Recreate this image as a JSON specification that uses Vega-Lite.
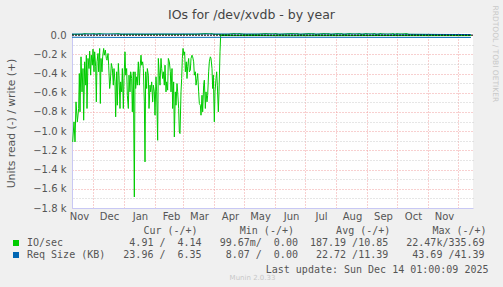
{
  "$schema": "https://vega.github.io/schema/vega-lite/v6.json",
  "width": 401,
  "height": 175,
  "autosize": {"type": "none"},
  "padding": {"left": 72, "top": 33, "right": 30, "bottom": 79},
  "background": "#f0f0f0",
  "config": {"view": {"fill": "white", "stroke": null}},
  "datasets": {
    "io": [
      {"t": "2024-11-10T16:00", "v": -1112, "s": "IO/sec", "d": "r"},
      {"t": "2024-11-12T00:00", "v": -903, "s": "IO/sec", "d": "r"},
      {"t": "2024-11-13T00:00", "v": -1112, "s": "IO/sec", "d": "r"},
      {"t": "2024-11-14T00:00", "v": -695, "s": "IO/sec", "d": "r"},
      {"t": "2024-11-15T08:00", "v": -903, "s": "IO/sec", "d": "r"},
      {"t": "2024-11-16T16:00", "v": -764, "s": "IO/sec", "d": "r"},
      {"t": "2024-11-17T08:00", "v": -400, "s": "IO/sec", "d": "r"},
      {"t": "2024-11-18T00:00", "v": -799, "s": "IO/sec", "d": "r"},
      {"t": "2024-11-19T00:00", "v": -226, "s": "IO/sec", "d": "r"},
      {"t": "2024-11-20T00:00", "v": -591, "s": "IO/sec", "d": "r"},
      {"t": "2024-11-21T00:00", "v": -348, "s": "IO/sec", "d": "r"},
      {"t": "2024-11-21T16:00", "v": -886, "s": "IO/sec", "d": "r"},
      {"t": "2024-11-22T16:00", "v": -278, "s": "IO/sec", "d": "r"},
      {"t": "2024-11-23T16:00", "v": -521, "s": "IO/sec", "d": "r"},
      {"t": "2024-11-24T08:00", "v": -209, "s": "IO/sec", "d": "r"},
      {"t": "2024-11-25T00:00", "v": -764, "s": "IO/sec", "d": "r"},
      {"t": "2024-11-26T00:00", "v": -243, "s": "IO/sec", "d": "r"},
      {"t": "2024-11-27T00:00", "v": -348, "s": "IO/sec", "d": "r"},
      {"t": "2024-11-27T16:00", "v": -167, "s": "IO/sec", "d": "r"},
      {"t": "2024-11-28T16:00", "v": -417, "s": "IO/sec", "d": "r"},
      {"t": "2024-11-29T08:00", "v": -209, "s": "IO/sec", "d": "r"},
      {"t": "2024-11-30T08:00", "v": -313, "s": "IO/sec", "d": "r"},
      {"t": "2024-12-01T00:00", "v": -146, "s": "IO/sec", "d": "r"},
      {"t": "2024-12-02T00:00", "v": -382, "s": "IO/sec", "d": "r"},
      {"t": "2024-12-02T16:00", "v": -174, "s": "IO/sec", "d": "r"},
      {"t": "2024-12-03T16:00", "v": -330, "s": "IO/sec", "d": "r"},
      {"t": "2024-12-04T08:00", "v": -695, "s": "IO/sec", "d": "r"},
      {"t": "2024-12-05T00:00", "v": -278, "s": "IO/sec", "d": "r"},
      {"t": "2024-12-06T00:00", "v": -191, "s": "IO/sec", "d": "r"},
      {"t": "2024-12-06T16:00", "v": -382, "s": "IO/sec", "d": "r"},
      {"t": "2024-12-07T16:00", "v": -139, "s": "IO/sec", "d": "r"},
      {"t": "2024-12-08T08:00", "v": -712, "s": "IO/sec", "d": "r"},
      {"t": "2024-12-09T00:00", "v": -243, "s": "IO/sec", "d": "r"},
      {"t": "2024-12-10T00:00", "v": -382, "s": "IO/sec", "d": "r"},
      {"t": "2024-12-10T16:00", "v": -226, "s": "IO/sec", "d": "r"},
      {"t": "2024-12-11T16:00", "v": -139, "s": "IO/sec", "d": "r"},
      {"t": "2024-12-12T08:00", "v": -209, "s": "IO/sec", "d": "r"},
      {"t": "2024-12-13T08:00", "v": -156, "s": "IO/sec", "d": "r"},
      {"t": "2024-12-14T08:00", "v": -243, "s": "IO/sec", "d": "r"},
      {"t": "2024-12-15T00:00", "v": -261, "s": "IO/sec", "d": "r"},
      {"t": "2024-12-16T00:00", "v": -191, "s": "IO/sec", "d": "r"},
      {"t": "2024-12-16T16:00", "v": -313, "s": "IO/sec", "d": "r"},
      {"t": "2024-12-17T16:00", "v": -556, "s": "IO/sec", "d": "r"},
      {"t": "2024-12-18T08:00", "v": -487, "s": "IO/sec", "d": "r"},
      {"t": "2024-12-19T08:00", "v": -295, "s": "IO/sec", "d": "r"},
      {"t": "2024-12-20T08:00", "v": -348, "s": "IO/sec", "d": "r"},
      {"t": "2024-12-21T08:00", "v": -521, "s": "IO/sec", "d": "r"},
      {"t": "2024-12-22T00:00", "v": -348, "s": "IO/sec", "d": "r"},
      {"t": "2024-12-23T00:00", "v": -487, "s": "IO/sec", "d": "r"},
      {"t": "2024-12-23T16:00", "v": -851, "s": "IO/sec", "d": "r"},
      {"t": "2024-12-24T16:00", "v": -382, "s": "IO/sec", "d": "r"},
      {"t": "2024-12-25T08:00", "v": -730, "s": "IO/sec", "d": "r"},
      {"t": "2024-12-26T08:00", "v": -295, "s": "IO/sec", "d": "r"},
      {"t": "2024-12-27T00:00", "v": -417, "s": "IO/sec", "d": "r"},
      {"t": "2024-12-28T00:00", "v": -764, "s": "IO/sec", "d": "r"},
      {"t": "2024-12-28T16:00", "v": -487, "s": "IO/sec", "d": "r"},
      {"t": "2024-12-29T16:00", "v": -591, "s": "IO/sec", "d": "r"},
      {"t": "2024-12-30T08:00", "v": -348, "s": "IO/sec", "d": "r"},
      {"t": "2024-12-31T08:00", "v": -764, "s": "IO/sec", "d": "r"},
      {"t": "2025-01-01T00:00", "v": -452, "s": "IO/sec", "d": "r"},
      {"t": "2025-01-02T00:00", "v": -174, "s": "IO/sec", "d": "r"},
      {"t": "2025-01-02T16:00", "v": -417, "s": "IO/sec", "d": "r"},
      {"t": "2025-01-03T16:00", "v": -348, "s": "IO/sec", "d": "r"},
      {"t": "2025-01-04T08:00", "v": -626, "s": "IO/sec", "d": "r"},
      {"t": "2025-01-05T08:00", "v": -764, "s": "IO/sec", "d": "r"},
      {"t": "2025-01-06T00:00", "v": -417, "s": "IO/sec", "d": "r"},
      {"t": "2025-01-07T00:00", "v": -591, "s": "IO/sec", "d": "r"},
      {"t": "2025-01-07T16:00", "v": -382, "s": "IO/sec", "d": "r"},
      {"t": "2025-01-08T16:00", "v": -452, "s": "IO/sec", "d": "r"},
      {"t": "2025-01-09T08:00", "v": -799, "s": "IO/sec", "d": "r"},
      {"t": "2025-01-10T08:00", "v": -382, "s": "IO/sec", "d": "r"},
      {"t": "2025-01-11T08:00", "v": -1685, "s": "IO/sec", "d": "r"},
      {"t": "2025-01-12T00:00", "v": -382, "s": "IO/sec", "d": "r"},
      {"t": "2025-01-12T16:00", "v": -556, "s": "IO/sec", "d": "r"},
      {"t": "2025-01-13T16:00", "v": -434, "s": "IO/sec", "d": "r"},
      {"t": "2025-01-14T08:00", "v": -521, "s": "IO/sec", "d": "r"},
      {"t": "2025-01-15T08:00", "v": -278, "s": "IO/sec", "d": "r"},
      {"t": "2025-01-16T08:00", "v": -521, "s": "IO/sec", "d": "r"},
      {"t": "2025-01-17T00:00", "v": -348, "s": "IO/sec", "d": "r"},
      {"t": "2025-01-18T00:00", "v": -209, "s": "IO/sec", "d": "r"},
      {"t": "2025-01-18T16:00", "v": -313, "s": "IO/sec", "d": "r"},
      {"t": "2025-01-19T16:00", "v": -278, "s": "IO/sec", "d": "r"},
      {"t": "2025-01-20T08:00", "v": -348, "s": "IO/sec", "d": "r"},
      {"t": "2025-01-21T08:00", "v": -695, "s": "IO/sec", "d": "r"},
      {"t": "2025-01-22T00:00", "v": -1320, "s": "IO/sec", "d": "r"},
      {"t": "2025-01-22T16:00", "v": -382, "s": "IO/sec", "d": "r"},
      {"t": "2025-01-23T16:00", "v": -556, "s": "IO/sec", "d": "r"},
      {"t": "2025-01-24T08:00", "v": -348, "s": "IO/sec", "d": "r"},
      {"t": "2025-01-25T08:00", "v": -417, "s": "IO/sec", "d": "r"},
      {"t": "2025-01-26T00:00", "v": -764, "s": "IO/sec", "d": "r"},
      {"t": "2025-01-27T00:00", "v": -521, "s": "IO/sec", "d": "r"},
      {"t": "2025-01-27T16:00", "v": -591, "s": "IO/sec", "d": "r"},
      {"t": "2025-01-28T16:00", "v": -487, "s": "IO/sec", "d": "r"},
      {"t": "2025-01-29T16:00", "v": -695, "s": "IO/sec", "d": "r"},
      {"t": "2025-01-30T08:00", "v": -521, "s": "IO/sec", "d": "r"},
      {"t": "2025-01-31T08:00", "v": -591, "s": "IO/sec", "d": "r"},
      {"t": "2025-02-01T00:00", "v": -834, "s": "IO/sec", "d": "r"},
      {"t": "2025-02-02T00:00", "v": -434, "s": "IO/sec", "d": "r"},
      {"t": "2025-02-02T16:00", "v": -591, "s": "IO/sec", "d": "r"},
      {"t": "2025-02-03T16:00", "v": -1095, "s": "IO/sec", "d": "r"},
      {"t": "2025-02-04T08:00", "v": -243, "s": "IO/sec", "d": "r"},
      {"t": "2025-02-05T08:00", "v": -417, "s": "IO/sec", "d": "r"},
      {"t": "2025-02-06T00:00", "v": -521, "s": "IO/sec", "d": "r"},
      {"t": "2025-02-07T00:00", "v": -243, "s": "IO/sec", "d": "r"},
      {"t": "2025-02-07T16:00", "v": -348, "s": "IO/sec", "d": "r"},
      {"t": "2025-02-08T16:00", "v": -452, "s": "IO/sec", "d": "r"},
      {"t": "2025-02-09T08:00", "v": -382, "s": "IO/sec", "d": "r"},
      {"t": "2025-02-10T08:00", "v": -521, "s": "IO/sec", "d": "r"},
      {"t": "2025-02-11T00:00", "v": -313, "s": "IO/sec", "d": "r"},
      {"t": "2025-02-12T00:00", "v": -591, "s": "IO/sec", "d": "r"},
      {"t": "2025-02-12T16:00", "v": -487, "s": "IO/sec", "d": "r"},
      {"t": "2025-02-13T16:00", "v": -573, "s": "IO/sec", "d": "r"},
      {"t": "2025-02-14T08:00", "v": -243, "s": "IO/sec", "d": "r"},
      {"t": "2025-02-15T08:00", "v": -278, "s": "IO/sec", "d": "r"},
      {"t": "2025-02-16T08:00", "v": -382, "s": "IO/sec", "d": "r"},
      {"t": "2025-02-17T00:00", "v": -591, "s": "IO/sec", "d": "r"},
      {"t": "2025-02-18T00:00", "v": -348, "s": "IO/sec", "d": "r"},
      {"t": "2025-02-18T16:00", "v": -764, "s": "IO/sec", "d": "r"},
      {"t": "2025-02-19T16:00", "v": -487, "s": "IO/sec", "d": "r"},
      {"t": "2025-02-20T08:00", "v": -1060, "s": "IO/sec", "d": "r"},
      {"t": "2025-02-21T08:00", "v": -591, "s": "IO/sec", "d": "r"},
      {"t": "2025-02-22T00:00", "v": -730, "s": "IO/sec", "d": "r"},
      {"t": "2025-02-23T00:00", "v": -504, "s": "IO/sec", "d": "r"},
      {"t": "2025-02-23T16:00", "v": -591, "s": "IO/sec", "d": "r"},
      {"t": "2025-02-24T16:00", "v": -764, "s": "IO/sec", "d": "r"},
      {"t": "2025-02-25T08:00", "v": -1008, "s": "IO/sec", "d": "r"},
      {"t": "2025-02-26T00:00", "v": -1025, "s": "IO/sec", "d": "r"},
      {"t": "2025-02-27T00:00", "v": -591, "s": "IO/sec", "d": "r"},
      {"t": "2025-02-27T16:00", "v": -452, "s": "IO/sec", "d": "r"},
      {"t": "2025-02-28T08:00", "v": -243, "s": "IO/sec", "d": "r"},
      {"t": "2025-03-01T00:00", "v": -139, "s": "IO/sec", "d": "r"},
      {"t": "2025-03-02T00:00", "v": -209, "s": "IO/sec", "d": "r"},
      {"t": "2025-03-02T16:00", "v": -174, "s": "IO/sec", "d": "r"},
      {"t": "2025-03-03T08:00", "v": -382, "s": "IO/sec", "d": "r"},
      {"t": "2025-03-04T08:00", "v": -278, "s": "IO/sec", "d": "r"},
      {"t": "2025-03-05T00:00", "v": -452, "s": "IO/sec", "d": "r"},
      {"t": "2025-03-05T16:00", "v": -330, "s": "IO/sec", "d": "r"},
      {"t": "2025-03-06T16:00", "v": -243, "s": "IO/sec", "d": "r"},
      {"t": "2025-03-07T08:00", "v": -382, "s": "IO/sec", "d": "r"},
      {"t": "2025-03-08T08:00", "v": -365, "s": "IO/sec", "d": "r"},
      {"t": "2025-03-09T00:00", "v": -243, "s": "IO/sec", "d": "r"},
      {"t": "2025-03-10T00:00", "v": -209, "s": "IO/sec", "d": "r"},
      {"t": "2025-03-10T16:00", "v": -226, "s": "IO/sec", "d": "r"},
      {"t": "2025-03-11T16:00", "v": -278, "s": "IO/sec", "d": "r"},
      {"t": "2025-03-12T08:00", "v": -417, "s": "IO/sec", "d": "r"},
      {"t": "2025-03-13T08:00", "v": -382, "s": "IO/sec", "d": "r"},
      {"t": "2025-03-14T00:00", "v": -521, "s": "IO/sec", "d": "r"},
      {"t": "2025-03-15T00:00", "v": -452, "s": "IO/sec", "d": "r"},
      {"t": "2025-03-15T16:00", "v": -400, "s": "IO/sec", "d": "r"},
      {"t": "2025-03-16T16:00", "v": -591, "s": "IO/sec", "d": "r"},
      {"t": "2025-03-17T08:00", "v": -712, "s": "IO/sec", "d": "r"},
      {"t": "2025-03-18T08:00", "v": -730, "s": "IO/sec", "d": "r"},
      {"t": "2025-03-19T00:00", "v": -834, "s": "IO/sec", "d": "r"},
      {"t": "2025-03-20T00:00", "v": -626, "s": "IO/sec", "d": "r"},
      {"t": "2025-03-20T16:00", "v": -799, "s": "IO/sec", "d": "r"},
      {"t": "2025-03-21T16:00", "v": -521, "s": "IO/sec", "d": "r"},
      {"t": "2025-03-22T08:00", "v": -469, "s": "IO/sec", "d": "r"},
      {"t": "2025-03-23T08:00", "v": -764, "s": "IO/sec", "d": "r"},
      {"t": "2025-03-24T00:00", "v": -591, "s": "IO/sec", "d": "r"},
      {"t": "2025-03-25T00:00", "v": -695, "s": "IO/sec", "d": "r"},
      {"t": "2025-03-25T16:00", "v": -626, "s": "IO/sec", "d": "r"},
      {"t": "2025-03-26T16:00", "v": -382, "s": "IO/sec", "d": "r"},
      {"t": "2025-03-27T08:00", "v": -278, "s": "IO/sec", "d": "r"},
      {"t": "2025-03-28T08:00", "v": -226, "s": "IO/sec", "d": "r"},
      {"t": "2025-03-29T00:00", "v": -243, "s": "IO/sec", "d": "r"},
      {"t": "2025-03-30T00:00", "v": -348, "s": "IO/sec", "d": "r"},
      {"t": "2025-03-30T16:00", "v": -556, "s": "IO/sec", "d": "r"},
      {"t": "2025-03-31T08:00", "v": -417, "s": "IO/sec", "d": "r"},
      {"t": "2025-04-01T08:00", "v": -903, "s": "IO/sec", "d": "r"},
      {"t": "2025-04-02T00:00", "v": -591, "s": "IO/sec", "d": "r"},
      {"t": "2025-04-03T00:00", "v": -452, "s": "IO/sec", "d": "r"},
      {"t": "2025-04-03T16:00", "v": -382, "s": "IO/sec", "d": "r"},
      {"t": "2025-04-04T08:00", "v": -521, "s": "IO/sec", "d": "r"},
      {"t": "2025-04-05T08:00", "v": -799, "s": "IO/sec", "d": "r"},
      {"t": "2025-04-06T00:00", "v": -591, "s": "IO/sec", "d": "r"},
      {"t": "2025-04-07T00:00", "v": -174, "s": "IO/sec", "d": "r"},
      {"t": "2025-04-07T16:00", "v": -4, "s": "IO/sec", "d": "r"},
      {"t": "2025-04-20T00:00", "v": -5, "s": "IO/sec", "d": "r"},
      {"t": "2025-05-15T00:00", "v": -4, "s": "IO/sec", "d": "r"},
      {"t": "2025-06-15T00:00", "v": -6, "s": "IO/sec", "d": "r"},
      {"t": "2025-07-15T00:00", "v": -5, "s": "IO/sec", "d": "r"},
      {"t": "2025-08-15T00:00", "v": -5, "s": "IO/sec", "d": "r"},
      {"t": "2025-09-15T00:00", "v": -4, "s": "IO/sec", "d": "r"},
      {"t": "2025-10-15T00:00", "v": -5, "s": "IO/sec", "d": "r"},
      {"t": "2025-11-15T00:00", "v": -5, "s": "IO/sec", "d": "r"},
      {"t": "2025-12-14T00:00", "v": -5, "s": "IO/sec", "d": "r"},
      {"t": "2024-11-10T00:00", "v": 8, "s": "IO/sec", "d": "w"},
      {"t": "2024-11-20T00:00", "v": 9, "s": "IO/sec", "d": "w"},
      {"t": "2024-11-24T00:00", "v": 20, "s": "IO/sec", "d": "w"},
      {"t": "2024-11-28T00:00", "v": 22, "s": "IO/sec", "d": "w"},
      {"t": "2024-12-01T00:00", "v": 20, "s": "IO/sec", "d": "w"},
      {"t": "2024-12-04T00:00", "v": 9, "s": "IO/sec", "d": "w"},
      {"t": "2024-12-10T00:00", "v": 22, "s": "IO/sec", "d": "w"},
      {"t": "2024-12-15T00:00", "v": 24, "s": "IO/sec", "d": "w"},
      {"t": "2024-12-20T00:00", "v": 22, "s": "IO/sec", "d": "w"},
      {"t": "2024-12-25T00:00", "v": 20, "s": "IO/sec", "d": "w"},
      {"t": "2024-12-29T00:00", "v": 8, "s": "IO/sec", "d": "w"},
      {"t": "2025-01-10T00:00", "v": 9, "s": "IO/sec", "d": "w"},
      {"t": "2025-01-25T00:00", "v": 8, "s": "IO/sec", "d": "w"},
      {"t": "2025-02-10T00:00", "v": 9, "s": "IO/sec", "d": "w"},
      {"t": "2025-02-25T00:00", "v": 8, "s": "IO/sec", "d": "w"},
      {"t": "2025-03-15T00:00", "v": 9, "s": "IO/sec", "d": "w"},
      {"t": "2025-03-28T00:00", "v": 21, "s": "IO/sec", "d": "w"},
      {"t": "2025-04-01T00:00", "v": 8, "s": "IO/sec", "d": "w"},
      {"t": "2025-04-15T00:00", "v": 8, "s": "IO/sec", "d": "w"},
      {"t": "2025-04-24T00:00", "v": 21, "s": "IO/sec", "d": "w"},
      {"t": "2025-05-01T00:00", "v": 8, "s": "IO/sec", "d": "w"},
      {"t": "2025-05-15T00:00", "v": 9, "s": "IO/sec", "d": "w"},
      {"t": "2025-05-26T00:00", "v": 20, "s": "IO/sec", "d": "w"},
      {"t": "2025-05-31T00:00", "v": 21, "s": "IO/sec", "d": "w"},
      {"t": "2025-06-05T00:00", "v": 8, "s": "IO/sec", "d": "w"},
      {"t": "2025-06-22T00:00", "v": 20, "s": "IO/sec", "d": "w"},
      {"t": "2025-06-26T00:00", "v": 8, "s": "IO/sec", "d": "w"},
      {"t": "2025-07-08T00:00", "v": 20, "s": "IO/sec", "d": "w"},
      {"t": "2025-07-12T00:00", "v": 8, "s": "IO/sec", "d": "w"},
      {"t": "2025-07-23T00:00", "v": 20, "s": "IO/sec", "d": "w"},
      {"t": "2025-07-27T00:00", "v": 8, "s": "IO/sec", "d": "w"},
      {"t": "2025-08-05T00:00", "v": 20, "s": "IO/sec", "d": "w"},
      {"t": "2025-08-09T00:00", "v": 8, "s": "IO/sec", "d": "w"},
      {"t": "2025-08-17T00:00", "v": 21, "s": "IO/sec", "d": "w"},
      {"t": "2025-08-20T00:00", "v": 22, "s": "IO/sec", "d": "w"},
      {"t": "2025-08-23T00:00", "v": 20, "s": "IO/sec", "d": "w"},
      {"t": "2025-08-27T00:00", "v": 8, "s": "IO/sec", "d": "w"},
      {"t": "2025-09-02T00:00", "v": 21, "s": "IO/sec", "d": "w"},
      {"t": "2025-09-05T00:00", "v": 22, "s": "IO/sec", "d": "w"},
      {"t": "2025-09-07T00:00", "v": 20, "s": "IO/sec", "d": "w"},
      {"t": "2025-09-11T00:00", "v": 8, "s": "IO/sec", "d": "w"},
      {"t": "2025-09-16T00:00", "v": 21, "s": "IO/sec", "d": "w"},
      {"t": "2025-09-21T00:00", "v": 23, "s": "IO/sec", "d": "w"},
      {"t": "2025-09-26T00:00", "v": 21, "s": "IO/sec", "d": "w"},
      {"t": "2025-09-29T00:00", "v": 8, "s": "IO/sec", "d": "w"},
      {"t": "2025-10-02T00:00", "v": 21, "s": "IO/sec", "d": "w"},
      {"t": "2025-10-05T00:00", "v": 22, "s": "IO/sec", "d": "w"},
      {"t": "2025-10-09T00:00", "v": 20, "s": "IO/sec", "d": "w"},
      {"t": "2025-10-13T00:00", "v": 8, "s": "IO/sec", "d": "w"},
      {"t": "2025-11-01T00:00", "v": 7, "s": "IO/sec", "d": "w"},
      {"t": "2025-11-20T00:00", "v": 6, "s": "IO/sec", "d": "w"},
      {"t": "2025-12-14T00:00", "v": 4, "s": "IO/sec", "d": "w"}
    ],
    "rq": [
      {"t": "2024-11-10T00:00", "v": -22, "s": "Req Size (KB)", "d": "r"},
      {"t": "2025-01-01T00:00", "v": -24, "s": "Req Size (KB)", "d": "r"},
      {"t": "2025-04-07T00:00", "v": -23, "s": "Req Size (KB)", "d": "r"},
      {"t": "2025-06-01T00:00", "v": -22, "s": "Req Size (KB)", "d": "r"},
      {"t": "2025-09-01T00:00", "v": -23, "s": "Req Size (KB)", "d": "r"},
      {"t": "2025-12-14T00:00", "v": -24, "s": "Req Size (KB)", "d": "r"},
      {"t": "2024-11-10T00:00", "v": 11, "s": "Req Size (KB)", "d": "w"},
      {"t": "2025-03-01T00:00", "v": 12, "s": "Req Size (KB)", "d": "w"},
      {"t": "2025-06-01T00:00", "v": 11, "s": "Req Size (KB)", "d": "w"},
      {"t": "2025-09-01T00:00", "v": 11, "s": "Req Size (KB)", "d": "w"},
      {"t": "2025-12-14T00:00", "v": 6, "s": "Req Size (KB)", "d": "w"}
    ],
    "zero": [{"t": "2024-11-10T00:00", "v": 0}, {"t": "2025-12-16T00:00", "v": 0}]
  },
  "layer": [
    {
      "data": {"name": "io"},
      "mark": {"type": "line", "strokeWidth": 1, "clip": true},
      "encoding": {
        "x": {"field": "t", "type": "temporal",
          "scale": {"domain": [{"year": 2024, "month": 11, "date": 10}, {"year": 2025, "month": 12, "date": 16}]},
          "axis": {"values": [{"year": 2024, "month": 12, "date": 1}, {"year": 2025, "month": 1, "date": 1}, {"year": 2025, "month": 2, "date": 1}, {"year": 2025, "month": 3, "date": 1}, {"year": 2025, "month": 4, "date": 1}, {"year": 2025, "month": 5, "date": 1}, {"year": 2025, "month": 6, "date": 1}, {"year": 2025, "month": 7, "date": 1}, {"year": 2025, "month": 8, "date": 1}, {"year": 2025, "month": 9, "date": 1}, {"year": 2025, "month": 10, "date": 1}, {"year": 2025, "month": 11, "date": 1}, {"year": 2025, "month": 12, "date": 1}],
            "orient": "bottom", "labels": false, "ticks": false, "grid": true, "gridColor": "#f0a0a0", "gridDash": [1, 2], "gridWidth": 1,
            "domain": true, "domainColor": "#c8c8f4", "domainWidth": 1,
            "title": "Munin 2.0.33", "titleFont": "DejaVu Sans", "titleFontSize": 7, "titleFontWeight": "normal", "titleColor": "#c8c8c8", "titleX": 180, "titleY": 69, "titleAlign": "center", "titleBaseline": "middle", "titleAnchor": null}},
        "y": {"field": "v", "type": "quantitative",
          "scale": {"domain": [-1800, 22], "nice": false, "zero": false},
          "axis": {"orient": "left", "values": [-1800, -1600, -1400, -1200, -1000, -800, -600, -400, -200, 0],
            "labelExpr": "datum.value == 0 ? '0.0\u00a0\u00a0' : format(datum.value / 1000, '.1f') + ' k'",
            "labelFont": "DejaVu Sans", "labelFontSize": 10, "labelColor": "#555555", "labelPadding": 6,
            "ticks": false, "grid": true, "gridColor": "#f0a0a0", "gridDash": [1, 2], "gridWidth": 1,
            "domain": true, "domainColor": "#c8c8f4", "domainWidth": 1,
            "title": "Units read (-) / write (+)", "titleFont": "DejaVu Sans", "titleFontSize": 10.8, "titleFontWeight": "normal", "titleColor": "#555555", "titleX": -61, "titleY": 90, "titleAngle": -90, "titleAlign": "center", "titleBaseline": "middle", "titleAnchor": null}},
        "color": {"field": "s", "type": "nominal",
          "scale": {"domain": ["IO/sec", "Req Size (KB)"], "range": ["#00cc00", "#0066b3"]},
          "legend": {"orient": "none", "legendX": -61, "legendY": 193, "padding": 0, "offset": 0,
            "symbolType": "square", "symbolSize": 36, "labelOffset": 6, "rowPadding": 2,
            "labelFont": "DejaVu Sans Mono", "labelFontSize": 10, "labelColor": "#555555", "labelLimit": 1000,
            "labelExpr": "datum.label == 'IO/sec' ? 'IO/sec\u00a0\u00a0\u00a0\u00a0\u00a0\u00a0\u00a0\u00a0\u00a0\u00a0\u00a04.91\u00a0/\u00a0\u00a04.14\u00a0\u00a0\u00a099.67m/\u00a0\u00a00.00\u00a0\u00a0187.19\u00a0/10.85\u00a0\u00a0\u00a022.47k/335.69' : 'Req\u00a0Size\u00a0(KB)\u00a0\u00a0\u00a023.96\u00a0/\u00a0\u00a06.35\u00a0\u00a0\u00a0\u00a08.07\u00a0/\u00a0\u00a00.00\u00a0\u00a0\u00a022.72\u00a0/11.39\u00a0\u00a0\u00a0\u00a043.69\u00a0/41.39'",
            "title": "\u200b\u00a0\u00a0\u00a0\u00a0\u00a0\u00a0\u00a0\u00a0\u00a0\u00a0\u00a0\u00a0\u00a0\u00a0\u00a0\u00a0\u00a0\u00a0\u00a0\u00a0\u00a0\u00a0Cur\u00a0(-/+)\u00a0\u00a0\u00a0\u00a0\u00a0\u00a0\u00a0Min\u00a0(-/+)\u00a0\u00a0\u00a0\u00a0\u00a0\u00a0\u00a0Avg\u00a0(-/+)\u00a0\u00a0\u00a0\u00a0\u00a0\u00a0\u00a0Max\u00a0(-/+)",
            "titleFont": "DejaVu Sans Mono", "titleFontSize": 10, "titleFontWeight": "normal", "titleColor": "#555555", "titleLimit": 1000, "titlePadding": 2,
            "encode": {"symbols": {"update": {"fill": {"scale": "color", "field": "value"}, "stroke": {"value": "transparent"}, "strokeWidth": {"value": 0}}}}}},
        "detail": {"field": "d", "type": "nominal"}
      }
    },
    {
      "data": {"name": "rq"},
      "mark": {"type": "line", "strokeWidth": 1, "clip": true},
      "encoding": {
        "x": {"field": "t", "type": "temporal",
          "scale": {"domain": [{"year": 2024, "month": 11, "date": 10}, {"year": 2025, "month": 12, "date": 16}]},
          "axis": {"values": [{"year": 2024, "month": 11, "date": 17}, {"year": 2024, "month": 12, "date": 17}, {"year": 2025, "month": 1, "date": 17}, {"year": 2025, "month": 2, "date": 17}, {"year": 2025, "month": 3, "date": 17}, {"year": 2025, "month": 4, "date": 17}, {"year": 2025, "month": 5, "date": 17}, {"year": 2025, "month": 6, "date": 17}, {"year": 2025, "month": 7, "date": 17}, {"year": 2025, "month": 8, "date": 17}, {"year": 2025, "month": 9, "date": 17}, {"year": 2025, "month": 10, "date": 17}, {"year": 2025, "month": 11, "date": 17}],
            "orient": "bottom", "format": "%b", "labelFont": "DejaVu Sans", "labelFontSize": 10, "labelColor": "#555555", "labelPadding": 3, "labelFlush": false, "labelOverlap": false,
            "ticks": false, "grid": false, "domain": false,
            "title": "Last update: Sun Dec 14 01:00:09 2025", "titleFont": "DejaVu Sans Mono", "titleFontSize": 10, "titleFontWeight": "normal", "titleColor": "#555555", "titleX": 416, "titleY": 61, "titleAlign": "right", "titleBaseline": "middle", "titleAnchor": null}},
        "y": {"field": "v", "type": "quantitative",
          "scale": {"domain": [-1800, 22], "nice": false, "zero": false},
          "axis": {"orient": "right", "values": [-1700, -1500, -1300, -1100, -900, -700, -500, -300, -100],
            "labels": false, "ticks": false, "domain": false, "grid": true, "gridColor": "#cccccc", "gridDash": [1, 2], "gridWidth": 1,
            "title": "RRDTOOL / TOBI OETIKER", "titleFont": "DejaVu Sans", "titleFontSize": 7.5, "titleFontWeight": "normal", "titleColor": "#c8c8c8", "titleX": 21, "titleY": -28, "titleAngle": 90, "titleAlign": "left", "titleBaseline": "middle", "titleAnchor": null}},
        "color": {"field": "s", "type": "nominal",
          "scale": {"domain": ["IO/sec", "Req Size (KB)"], "range": ["#00cc00", "#0066b3"]}},
        "detail": {"field": "d", "type": "nominal"}
      }
    },
    {
      "data": {"name": "zero"},
      "mark": {"type": "line", "color": "#000000", "strokeWidth": 1, "strokeDash": [2, 1]},
      "encoding": {
        "x": {"field": "t", "type": "temporal",
          "scale": {"domain": [{"year": 2024, "month": 11, "date": 10}, {"year": 2025, "month": 12, "date": 16}]},
          "axis": {"orient": "top", "labels": false, "ticks": false, "grid": false, "domain": false,
            "title": "IOs for /dev/xvdb - by year", "titleFont": "DejaVu Sans", "titleFontSize": 12.5, "titleFontWeight": "normal", "titleColor": "#444444", "titleX": 179, "titleY": -14.5, "titleAlign": "center", "titleBaseline": "alphabetic", "titleAnchor": null}},
        "y": {"field": "v", "type": "quantitative", "scale": {"domain": [-1800, 22], "nice": false, "zero": false}, "axis": null}
      }
    }
  ],
  "resolve": {"axis": {"x": "independent", "y": "independent"}}
}
